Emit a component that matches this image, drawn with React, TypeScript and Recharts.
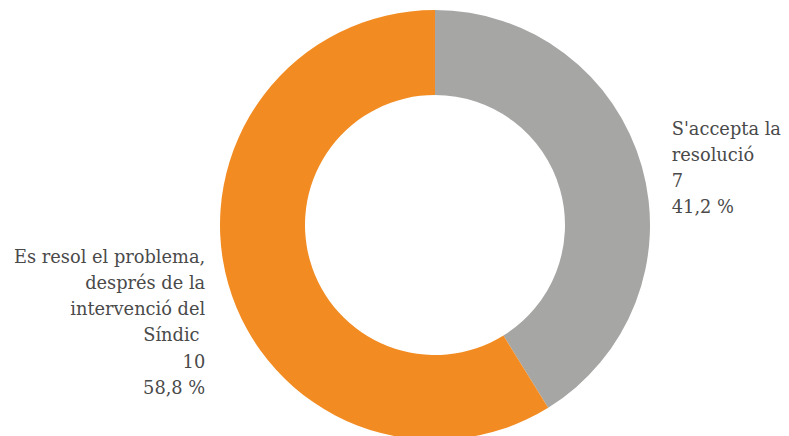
import React from "react";
import { PieChart, Pie, Cell } from "recharts";

const categories = ["S'accepta la resolució", "Es resol el problema, després de la intervenció del Síndic "];
const categoryLines = [
  ["S'accepta la", "resolució"],
  ["Es resol el problema,", "després de la", "intervenció del", "Síndic "],
];
const values = [7, 10];
const colors = ["#A6A6A4", "#F28C22"];

const data = categories.map((name, i) => ({ name, value: values[i], lines: categoryLines[i] }));
const total = values.reduce((a, b) => a + b, 0);

const RAD = Math.PI / 180;
const LH = 26.2;

const renderLabel = (props: any) => {
  const { cx, cy, midAngle, outerRadius, payload, value } = props;
  const cos = Math.cos(-midAngle * RAD);
  const sin = Math.sin(-midAngle * RAD);
  const px = cx + outerRadius * cos;
  const py = cy + outerRadius * sin;
  const right = cos >= 0;
  const lines: string[] = [
    ...(payload.lines || (payload.payload && payload.payload.lines) || []),
    String(value),
    (Math.round((value / total) * 1000) / 10).toFixed(1).replace(".", ",") + " %",
  ];
  const x = right ? px + 30 : px - 23;
  const startY = right ? py - ((lines.length - 1) * LH) / 2 + 8 : py - 21;
  return (
    <text
      x={x}
      y={startY}
      textAnchor={right ? "start" : "end"}
      fill="#4a4a4a"
      fontFamily="'DejaVu Serif'"
      fontSize={17.8}
      style={{ whiteSpace: "pre" }}
    >
      {lines.map((l, i) => (
        <tspan key={i} x={x} y={startY + i * LH}>
          {l}
        </tspan>
      ))}
    </text>
  );
};

export default function App() {
  return (
    <PieChart width={789} height={436} margin={{ top: 0, right: 0, bottom: 0, left: 0 }}>
      <Pie
        data={data}
        dataKey="value"
        nameKey="name"
        cx={427}
        cy={217}
        innerRadius={130}
        outerRadius={215}
        startAngle={90}
        endAngle={-270}
        stroke="none"
        label={renderLabel}
        labelLine={false}
        isAnimationActive={false}
      >
        {data.map((d, i) => (
          <Cell key={d.name} fill={colors[i]} />
        ))}
      </Pie>
    </PieChart>
  );
}
